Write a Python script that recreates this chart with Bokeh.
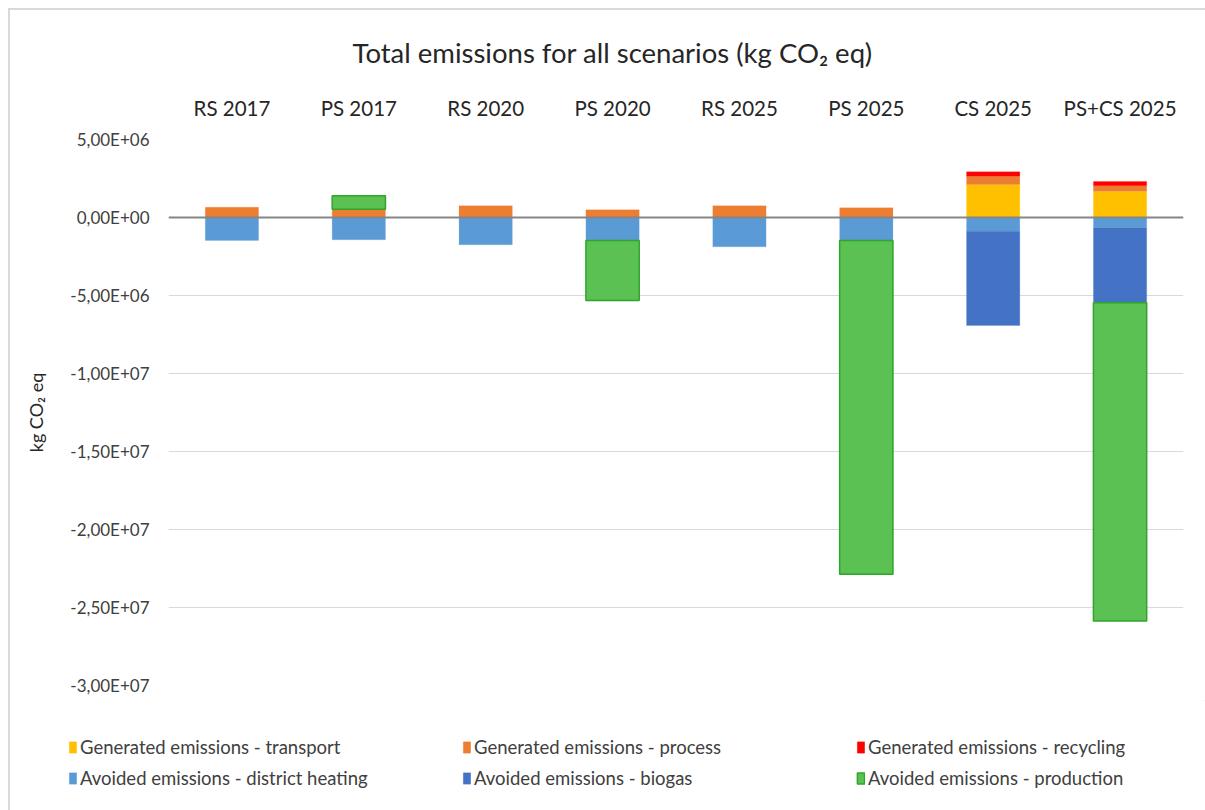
from bokeh.plotting import figure
from bokeh.layouts import column
from bokeh.models import (ColumnDataSource, Legend, LegendItem, FixedTicker, Span, Title, Range1d)
from bokeh.embed import file_html
from bokeh.resources import INLINE

categories = ["RS 2017", "PS 2017", "RS 2020", "PS 2020", "RS 2025", "PS 2025", "CS 2025", "PS+CS 2025"]
transport = [0, 0, 0, 0, 0, 0, 2.12e6, 1.69e6]
process = [0.66e6, 0.53e6, 0.75e6, 0.49e6, 0.75e6, 0.62e6, 0.53e6, 0.34e6]
recycling = [0, 0, 0, 0, 0, 0, 0.28e6, 0.28e6]
district_heating = [-1.47e6, -1.43e6, -1.75e6, -1.47e6, -1.88e6, -1.47e6, -0.88e6, -0.66e6]
biogas = [0, 0, 0, 0, 0, 0, -6.04e6, -4.81e6]
production = [0, 0.86e6, 0, -3.85e6, 0, -21.4e6, 0, -20.4e6]

series_names = [
    "Generated emissions - transport",
    "Generated emissions - process",
    "Generated emissions - recycling",
    "Avoided emissions - district heating",
    "Avoided emissions - biogas",
    "Avoided emissions - production",
]
series_values = [transport, process, recycling, district_heating, biogas, production]
colors = ["#FFC000", "#ED7D31", "#FF0000", "#5B9BD5", "#4472C4", "#5BC152"]
line_colors = ["#FFC000", "#ED7D31", "#FF0000", "#5B9BD5", "#4472C4", "#2FA52B"]

y_ticks = [5e6, 0, -5e6, -1e7, -1.5e7, -2e7, -2.5e7, -3e7]
y_tick_labels = ["5,00E+06", "0,00E+00", "-5,00E+06", "-1,00E+07", "-1,50E+07", "-2,00E+07", "-2,50E+07", "-3,00E+07"]

FONT = "Lato"

p = figure(x_range=categories, y_range=(-3e7, 5e6), width=1195, height=690,
           output_backend="svg", toolbar_location=None, x_axis_location="above",
           min_border_left=158, min_border_right=22, min_border_top=128, min_border_bottom=15)
p.outline_line_color = None
p.background_fill_color = "white"
p.border_fill_color = "white"

pos = [0.0] * len(categories)
neg = [0.0] * len(categories)
for name, vals, c, lc in zip(series_names, series_values, colors, line_colors):
    xs, bottoms, tops = [], [], []
    for i, v in enumerate(vals):
        if v == 0:
            continue
        xs.append(categories[i])
        if v > 0:
            bottoms.append(pos[i]); tops.append(pos[i] + v); pos[i] += v
        else:
            bottoms.append(neg[i]); tops.append(neg[i] + v); neg[i] += v
    src = ColumnDataSource(dict(x=xs, bottom=bottoms, top=tops))
    p.vbar(x="x", bottom="bottom", top="top", width=0.42, source=src,
           fill_color=c, line_color=lc, line_width=1.5 if lc != c else 0.5,
           line_alpha=1.0 if lc != c else 0.4)

p.add_layout(Span(location=0, dimension="width", line_color="#868686", line_width=2))

p.yaxis.ticker = FixedTicker(ticks=y_ticks)
p.yaxis.major_label_overrides = {t: l for t, l in zip(y_ticks, y_tick_labels)}
p.yaxis.axis_line_color = None
p.yaxis.major_tick_line_color = None
p.yaxis.minor_tick_line_color = None
p.yaxis.major_label_text_font = FONT
p.yaxis.major_label_text_font_size = "17px"
p.yaxis.major_label_text_color = "#404040"
p.yaxis.major_label_standoff = 13
p.yaxis.axis_label = "kg CO₂ eq"
p.yaxis.axis_label_text_font = FONT
p.yaxis.axis_label_text_font_style = "normal"
p.yaxis.axis_label_text_font_size = "18px"
p.yaxis.axis_label_text_color = "#262626"
p.yaxis.axis_label_standoff = 20

p.xaxis.axis_line_color = None
p.xaxis.major_tick_line_color = None
p.xaxis.minor_tick_line_color = None
p.xaxis.major_label_text_font = FONT
p.xaxis.major_label_text_font_size = "20.5px"
p.xaxis.major_label_text_color = "#262626"
p.xaxis.major_label_standoff = 14

p.xgrid.grid_line_color = None
p.ygrid.grid_line_color = "#D9D9D9"
p.ygrid.grid_line_width = 1

p.title = Title(text="Total emissions for all scenarios (kg CO₂ eq)", align="left",
                text_font=FONT, text_font_size="27.5px", text_font_style="normal",
                text_color="#262626", offset=184, standoff=47)

# legend figure
lg = figure(width=1195, height=110, x_range=Range1d(0, 1), y_range=Range1d(0, 1),
            output_backend="svg", toolbar_location=None,
            x_axis_location=None, y_axis_location=None,
            min_border_left=0, min_border_right=0, min_border_top=0, min_border_bottom=0)
lg.grid.visible = False
lg.outline_line_color = None
legend_items = []
for name, c, lc in zip(series_names, colors, line_colors):
    r = lg.vbar(x=[50], bottom=[50], top=[51], width=0.5, fill_color=c, line_color=lc,
                line_width=1.5 if lc != c else 0.5)
    legend_items.append(LegendItem(label=name, renderers=[r]))

legend = Legend(items=legend_items, ncols=3, location=(58, 17), orientation="horizontal",
                label_text_font=FONT, label_text_font_size="18.5px", label_text_color="#404040",
                glyph_width=9, glyph_height=14, label_standoff=3, label_width=382,
                label_height=31, spacing=0, padding=0, margin=0,
                border_line_color=None, background_fill_alpha=0)
lg.add_layout(legend, "center")

layout = column(p, column(lg, spacing=0), spacing=0, margin=(8, 0, 0, 8),
                styles={"border-left": "2px solid #D9D9D9", "border-top": "2px solid #D9D9D9"})
open("out.html", "w").write(file_html(layout, INLINE))
